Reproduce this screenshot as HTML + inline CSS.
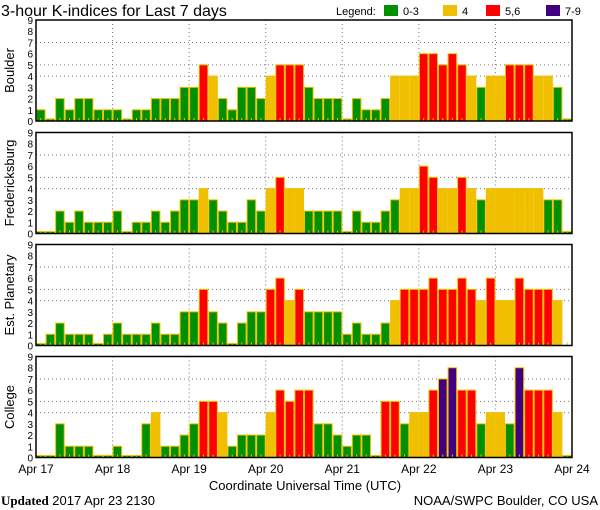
<!DOCTYPE html>
<html><head><meta charset="utf-8"><style>
html,body{margin:0;padding:0;background:#fff;}
svg{display:block;font-family:"Liberation Sans","DejaVu Sans",sans-serif;}
</style></head><body>
<svg id="chart" width="600" height="510" viewBox="0 0 600 510" xmlns="http://www.w3.org/2000/svg">
<text x="1" y="16" font-size="16" fill="#000">3-hour K-indices for Last 7 days</text>
<g font-size="11">
<text x="336" y="15">Legend:</text>
<rect x="384" y="5" width="14" height="11" fill="#009000"/><text x="403" y="15">0-3</text>
<rect x="443" y="5" width="14" height="11" fill="#f0c000"/><text x="462" y="15">4</text>
<rect x="486" y="5" width="14" height="11" fill="#ff0000"/><text x="505" y="15">5,6</text>
<rect x="546" y="5" width="14" height="11" fill="#400080"/><text x="565" y="15">7-9</text>
</g>
<g id="panels"></g>
<text x="305" y="490" font-size="13" text-anchor="middle">Coordinate Universal Time (UTC)</text>
<text x="1" y="505" font-size="13"><tspan font-family="Liberation Serif,serif" font-weight="bold">Updated</tspan> 2017 Apr 23 2130</text>
<text x="598" y="505" font-size="13" text-anchor="end">NOAA/SWPC Boulder, CO USA</text>
</svg>
<script>
const days = ["Apr 17","Apr 18","Apr 19","Apr 20","Apr 21","Apr 22","Apr 23","Apr 24"];
const yTicks = [0,1,2,3,4,5,6,7,8,9];
const stations = ["Boulder","Fredericksburg","Est. Planetary","College"];
const boulder = [1,0,2,1,2,2,1,1, 1,0,1,1,2,2,2,3, 3,5,4,2,1,3,3,2, 4,5,5,5,3,2,2,2, 0,2,1,1,2,4,4,4, 6,6,5,6,5,4,3,4, 4,5,5,5,4,4,3,0];
const fredericksburg = [0,0,2,1,2,1,1,1, 2,0,1,1,2,1,2,3, 3,4,3,2,1,1,3,2, 4,5,4,4,2,2,2,2, 0,2,1,1,2,3,4,4, 6,5,4,4,5,4,3,4, 4,4,4,4,4,3,3,0];
const planetary = [0,1,2,1,1,1,0,1, 2,1,1,1,2,1,1,3, 3,5,3,2,0,2,3,3, 5,6,4,5,3,3,3,3, 1,2,1,1,2,4,5,5, 5,6,5,5,6,5,4,6, 4,4,6,5,5,5,4,null];
const college = [0,0,3,1,1,1,0,0, 1,0,0,3,4,1,1,2, 3,5,5,4,1,2,2,2, 4,6,5,6,6,3,3,2, 1,2,2,0,5,5,3,4, 4,6,7,8,6,6,3,4, 4,3,8,6,6,6,4,0];
const series = [boulder, fredericksburg, planetary, college];

const NS="http://www.w3.org/2000/svg";
const L=36, R=572, nBars=56;
const panelTops=[20,132.5,244.5,356.5], PH=101;
const xScale = i => L + (R-L)*i/nBars;
function color(v){return v>=7?"#400080":v>=5?"#ff0000":v>=4?"#f0c000":"#009000";}
function mk(tag,attrs,parent){const e=document.createElementNS(NS,tag);for(const k in attrs)e.setAttribute(k,attrs[k]);parent.appendChild(e);return e;}
const root=document.getElementById("panels");
series.forEach((vals,p)=>{
  const top=panelTops[p], zero=top+PH, unit=PH/9;
  const yScale=v=>zero-v*unit;
  const g=mk("g",{},root);
  
  
  [4,5,7].forEach(v=>{const l=mk("line",{x1:L,x2:R,y1:yScale(v),y2:yScale(v),stroke:"#777","stroke-dasharray":"1,3"},g);
    
    });
  for(let d=1;d<7;d++){const l=mk("line",{x1:xScale(d*8),x2:xScale(d*8),y1:top,y2:zero,stroke:"#777","stroke-dasharray":"1,3"},g);
    
    }
  vals.forEach((v,i)=>{
    const x0=xScale(i), w=xScale(i+1)-x0;
    if(v!==null){
      const h=Math.max(v*unit,2);
      const r=mk("rect",{x:x0+0.5,y:zero-h,width:w-1,height:h,fill:color(v),stroke:"#f0c000","stroke-width":1},g);
      
      
    }
    const t=mk("rect",{x:x0+w/2-0.5,y:zero-3,width:1,height:3,fill:"#f0c000"},g);
    
    
  });
  const f=mk("rect",{x:L,y:top,width:R-L,height:PH,fill:"none",stroke:"#000","stroke-width":1.5},g);
  
  
  yTicks.forEach(v=>{const t=mk("text",{x:33,y:yScale(v)+4,"font-size":10,"text-anchor":"end"},g);t.textContent=v;
    
    });
  const cy=top+PH/2;
  const lab=mk("text",{x:14,y:cy,"font-size":13,"text-anchor":"middle",transform:`rotate(-90 14 ${cy})`},g);
  lab.textContent=stations[p];
  
  
});
const svg=document.getElementById("chart");
days.forEach((d,i)=>{const t=mk("text",{x:xScale(i*8),y:473,"font-size":12,"text-anchor":"middle"},svg);t.textContent=d;
  
  });
</script>
</body></html>
